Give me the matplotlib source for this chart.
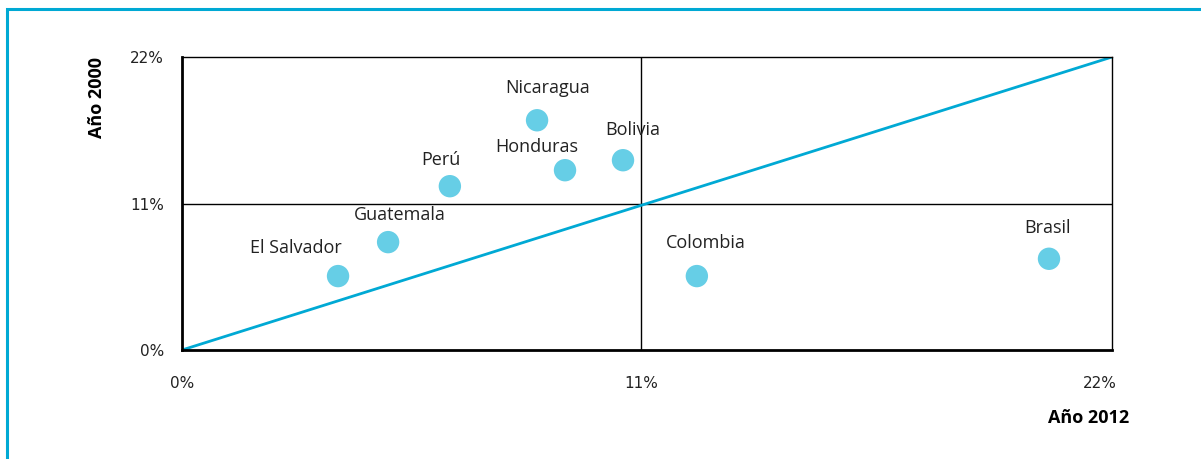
import matplotlib.pyplot as plt
from matplotlib.patches import Rectangle

paises = ["El Salvador", "Guatemala", "Perú", "Nicaragua", "Honduras", "Bolivia", "Colombia", "Brasil"]
anio_2012 = [3.74, 4.94, 6.42, 8.51, 9.18, 10.57, 12.34, 20.78]
anio_2000 = [5.55, 8.1, 12.3, 17.25, 13.5, 14.25, 5.55, 6.85]
# desplazamiento de etiquetas (px)
offsets = [(-42, 28), (12, 27), (-9, 26), (11, 32), (-28, 23), (10, 30), (9, 33), (-1, 31)]

ticks = [0, 11, 22]
tick_labels = ["0%", "11%", "22%"]

azul = "#00A9D4"
punto = "#66CEE6"

fig = plt.figure(figsize=(12.01, 4.59), dpi=100)
W, H = 1201, 459

# marco exterior
fig.patches.append(Rectangle((6.5 / W, -0.1), 1.2, 1.1 - 9.5 / H, transform=fig.transFigure,
                             fill=False, edgecolor=azul, linewidth=2.2))

ax = fig.add_axes([182 / W, 1 - 350 / H, 930 / W, 293 / H])
ax.set_xlim(0, 22.29)
ax.set_ylim(0, 22)

# diagonal de esquina a esquina
ax.plot([0, 1], [0, 1], color=azul, lw=2, zorder=2, transform=ax.transAxes)
ax.axvline(11, color="black", lw=1, zorder=1)
ax.axhline(11, color="black", lw=1, zorder=1)

ax.scatter(anio_2012, anio_2000, s=260, color=punto, edgecolor="none", zorder=3)
for p, x, y, off in zip(paises, anio_2012, anio_2000, offsets):
    ax.annotate(p, (x, y), xytext=off, textcoords="offset pixels", ha="center", va="center",
                fontsize=13, color="#222222", family="Open Sans")

for s in ["left", "bottom"]:
    ax.spines[s].set_linewidth(2)
for s in ["right", "top"]:
    ax.spines[s].set_linewidth(1)

ax.set_xticks(ticks)
ax.set_xticklabels(tick_labels)
ax.set_yticks(ticks)
ax.set_yticklabels(tick_labels)
ax.tick_params(length=0, labelsize=11, colors="#222222")
ax.tick_params(axis="x", pad=19)
ax.tick_params(axis="y", pad=13)

fig.text(97 / W, 1 - 97 / H, "Año 2000", rotation=90, ha="center", va="center",
         fontsize=13, fontweight="bold", family="Open Sans")
fig.text(1129 / W, 1 - 418 / H, "Año 2012", ha="right", va="center",
         fontsize=13, fontweight="bold", family="Open Sans")

fig.savefig("out.png", dpi=100)
